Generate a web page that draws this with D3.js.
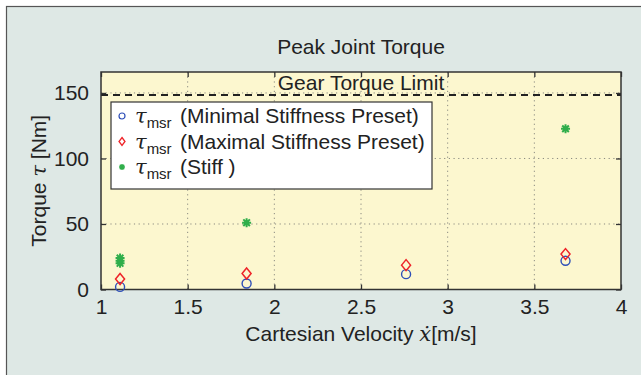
<!DOCTYPE html>
<html>
<head>
<script src="https://d3js.org/d3.v7.min.js"></script>
<style>
  body { margin: 0; background: #fff; }
  text { font-family: "Liberation Sans", Arial, sans-serif; fill: #222; }
</style>
</head>
<body>
<div id="viz"></div>
<script>
// values
var velocity = [1.11, 1.84, 2.76, 3.68];
var tauMinPreset = [2, 4.6, 11.7, 21.9];
var tauMaxPreset = [8, 12.2, 18.6, 27];
var stiffVelocity = [1.11, 1.11, 1.11, 1.84, 3.68];
var tauStiff = [20, 22, 24, 51, 122.7];
var gearLimit = 148.5;
var xTicks = [1, 1.5, 2, 2.5, 3, 3.5, 4];
var yTicks = [0, 50, 100, 150];
var legendLabels = ["(Minimal Stiffness Preset)", "(Maximal Stiffness Preset)", "(Stiff )"];

var W = 641, H = 375;
var pLeft = 101, pRight = 621, pTop = 72, pBottom = 289.5;
var fs = "21px";

var svg = d3.select("#viz").append("svg")
    .attr("width", W)
    .attr("height", H);

// panel behind everything
svg.append("rect")
    .attr("x", 6.5).attr("y", 6.5)
    .attr("width", W).attr("height", H)
    .style("fill", "#dee8e5")
    .style("stroke", "#555")
    .style("stroke-width", 1.2);

var x = d3.scaleLinear().domain([1, 4]).range([pLeft, pRight]);
var y = d3.scaleLinear().domain([0, 166]).range([pBottom, pTop]);

svg.append("rect")
    .attr("x", pLeft).attr("y", pTop)
    .attr("width", pRight - pLeft).attr("height", pBottom - pTop)
    .style("fill", "#fcf7cf");

// dotted grid
svg.append("g").selectAll("line")
    .data(xTicks.slice(1, -1))
    .enter().append("line")
    .attr("x1", function(d){ return x(d); })
    .attr("x2", function(d){ return x(d); })
    .attr("y1", pTop).attr("y2", pBottom)
    .style("stroke", "#8a8a80")
    .style("stroke-width", 1)
    .style("stroke-dasharray", "1.2,3.5");

svg.append("g").selectAll("line")
    .data(yTicks.slice(1))
    .enter().append("line")
    .attr("y1", function(d){ return y(d); })
    .attr("y2", function(d){ return y(d); })
    .attr("x1", pLeft).attr("x2", pRight)
    .style("stroke", "#8a8a80")
    .style("stroke-width", 1)
    .style("stroke-dasharray", "1.2,3.5");

// gear torque limit
svg.append("line")
    .attr("x1", pLeft).attr("x2", pRight)
    .attr("y1", y(gearLimit)).attr("y2", y(gearLimit))
    .style("stroke", "#222")
    .style("stroke-width", 2)
    .style("stroke-dasharray", "7,5");

svg.append("text")
    .attr("x", x(2.5))
    .attr("y", y(gearLimit) - 5)
    .attr("text-anchor", "middle")
    .style("font-size", fs)
    .text("Gear Torque Limit");

// axes, ticks inward on all four sides
function tickStyle(g) {
    g.select(".domain").remove();
    g.selectAll("line").style("stroke", "#333").style("stroke-width", 1.3);
    g.selectAll("text").style("font-size", fs).style("fill", "#222");
}
svg.append("g")
    .attr("transform", "translate(0," + pBottom + ")")
    .call(d3.axisBottom(x).tickValues(xTicks).tickSizeInner(-5).tickSizeOuter(0).tickPadding(10).tickFormat(d3.format("")))
    .call(tickStyle);
svg.append("g")
    .attr("transform", "translate(0," + pTop + ")")
    .call(d3.axisTop(x).tickValues(xTicks).tickSizeInner(-5).tickSizeOuter(0).tickFormat(""))
    .call(tickStyle);
svg.append("g")
    .attr("transform", "translate(" + pLeft + ",0)")
    .call(d3.axisLeft(y).tickValues(yTicks).tickSizeInner(-5).tickSizeOuter(0).tickPadding(12))
    .call(tickStyle);
svg.append("g")
    .attr("transform", "translate(" + pRight + ",0)")
    .call(d3.axisRight(y).tickValues(yTicks).tickSizeInner(-5).tickSizeOuter(0).tickFormat(""))
    .call(tickStyle);

svg.append("rect")
    .attr("x", pLeft).attr("y", pTop)
    .attr("width", pRight - pLeft).attr("height", pBottom - pTop)
    .style("fill", "none")
    .style("stroke", "#333")
    .style("stroke-width", 1.5);

// markers
var blue = "#2e4fb8", red = "#ee2328", green = "#2fae4a";
var diamond = "M0,-5.5L4.5,0L0,5.5L-4.5,0Z";
var star = "M-4.5,0L4.5,0M0,-4.5L0,4.5M-3.3,-3.3L3.3,3.3M-3.3,3.3L3.3,-3.3";

svg.append("g").selectAll("circle")
    .data(tauMinPreset)
    .enter().append("circle")
    .attr("cx", function(d, i){ return x(velocity[i]); })
    .attr("cy", function(d){ return y(d); })
    .attr("r", 4.5)
    .style("fill", "none")
    .style("stroke", blue)
    .style("stroke-width", 1.4);

svg.append("g").selectAll("path")
    .data(tauMaxPreset)
    .enter().append("path")
    .attr("d", diamond)
    .attr("transform", function(d, i){ return "translate(" + x(velocity[i]) + "," + y(d) + ")"; })
    .style("fill", "none")
    .style("stroke", red)
    .style("stroke-width", 1.5);

svg.append("g").selectAll("path")
    .data(tauStiff)
    .enter().append("path")
    .attr("d", star)
    .attr("transform", function(d, i){ return "translate(" + x(stiffVelocity[i]) + "," + y(d) + ")"; })
    .style("fill", "none")
    .style("stroke", green)
    .style("stroke-width", 2);

// legend
var lg = svg.append("g");
lg.append("rect")
    .attr("x", 111).attr("y", 102)
    .attr("width", 321).attr("height", 87)
    .style("fill", "#fff")
    .style("stroke", "#333")
    .style("stroke-width", 1.2);

var rows = lg.selectAll("g.row")
    .data(legendLabels)
    .enter().append("g")
    .attr("class", "row")
    .attr("transform", function(d, i){ return "translate(0," + (116 + i * 25.5) + ")"; });

rows.each(function(d, i) {
    var r = d3.select(this);
    if (i == 0) {
        r.append("circle").attr("cx", 122).attr("cy", 0).attr("r", 3)
            .style("fill", "none").style("stroke", blue).style("stroke-width", 1.2);
    } else if (i == 1) {
        r.append("path").attr("d", "M0,-4L3,0L0,4L-3,0Z").attr("transform", "translate(122,0)")
            .style("fill", "none").style("stroke", red).style("stroke-width", 1.3);
    } else {
        r.append("path").attr("d", "M-3,0L3,0M0,-3L0,3M-2.2,-2.2L2.2,2.2M-2.2,2.2L2.2,-2.2")
            .attr("transform", "translate(122,0)")
            .style("fill", "none").style("stroke", green).style("stroke-width", 1.5);
    }
    var t = r.append("text").attr("x", 135).attr("y", 7).style("font-size", fs);
    t.append("tspan").style("font-family", "'DejaVu Serif', serif").style("font-style", "italic").text("τ");
    t.append("tspan").attr("dy", 5).style("font-size", "15px").text("msr");
    t.append("tspan").attr("dy", -5).attr("x", 180).text(d);
});

// titles
svg.append("text")
    .attr("x", (pLeft + pRight) / 2)
    .attr("y", 54)
    .attr("text-anchor", "middle")
    .style("font-size", fs)
    .text("Peak Joint Torque");

var xl = svg.append("text")
    .attr("x", (pLeft + pRight) / 2)
    .attr("y", 341)
    .attr("text-anchor", "middle")
    .style("font-size", fs);
xl.append("tspan").text("Cartesian Velocity ");
xl.append("tspan").style("font-family", "'DejaVu Serif', serif").style("font-style", "italic").text("ẋ");
xl.append("tspan").text("[m/s]");

var yl = svg.append("text")
    .attr("transform", "translate(46," + ((pTop + pBottom) / 2) + ") rotate(-90)")
    .attr("text-anchor", "middle")
    .style("font-size", fs);
yl.append("tspan").text("Torque ");
yl.append("tspan").style("font-family", "'DejaVu Serif', serif").style("font-style", "italic").text("τ");
yl.append("tspan").text(" [Nm]");
</script>
</body>
</html>
